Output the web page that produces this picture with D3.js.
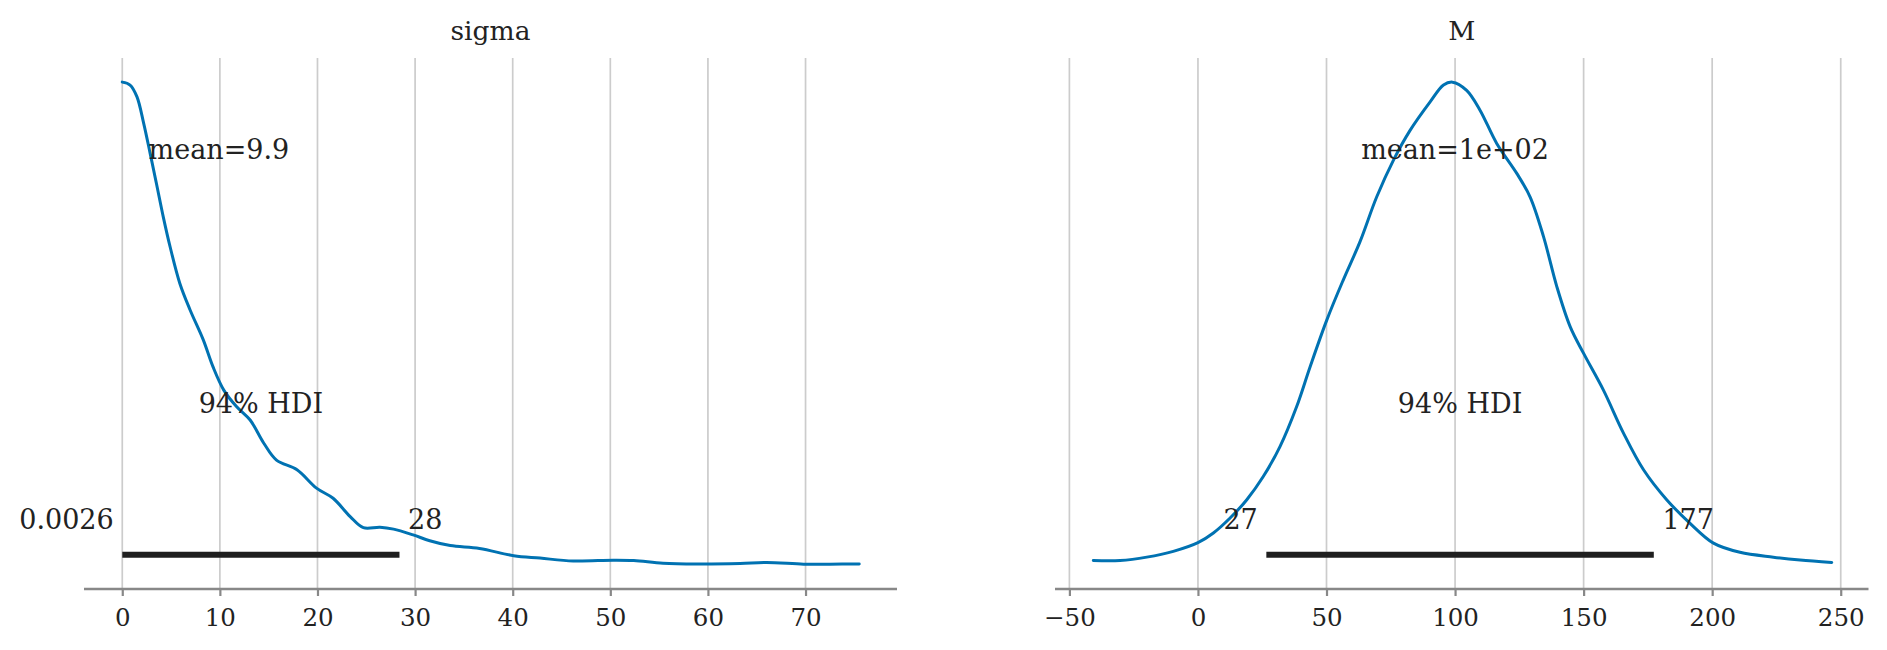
<!DOCTYPE html>
<html>
<head>
<meta charset="utf-8">
<script src="https://cdn.jsdelivr.net/npm/d3@7"></script>
<style>
  html, body { margin: 0; padding: 0; background: #ffffff; }
  svg { display: block; }
  text { font-family: "DejaVu Serif", serif; fill: #222222; }
</style>
</head>
<body>
<svg id="chart" width="1887" height="650"></svg>
<script>
// ---------------- DATA ----------------
// Panel titles
const panelTitles = ["sigma", "M"];

// sigma posterior KDE (x value, density relative to peak)
const sigmaX = [0, 0.8, 1.5, 2.2, 2.85, 3.5, 4.2, 4.9, 5.9, 6.95, 8.3, 9.3, 10.4, 11.7, 13.1, 14.5, 15.8, 17.9, 19.9, 21.6, 23.35, 24.7, 26.4, 27.8, 29.8, 31.5, 33.6, 36.6, 40.1, 42.8, 46.2, 50.3, 52.4, 55.4, 58.9, 63.3, 66.0, 69.8, 72.5, 75.5];
const sigmaDensity = [1.0, 0.994, 0.97, 0.914, 0.853, 0.79, 0.721, 0.659, 0.583, 0.528, 0.466, 0.41, 0.362, 0.328, 0.30, 0.252, 0.217, 0.197, 0.159, 0.138, 0.10, 0.077, 0.078, 0.074, 0.062, 0.05, 0.04, 0.034, 0.019, 0.014, 0.008, 0.0097, 0.009, 0.0035, 0.002, 0.003, 0.005, 0.0015, 0.0015, 0.002];

// M posterior KDE (x value, density relative to peak)
const mX = [-40.7, -30.3, -19.9, -9.6, 0, 6.0, 12.5, 19.0, 25.4, 31.9, 38.4, 43.6, 50.1, 56.5, 63.0, 69.5, 76.0, 82.5, 90.3, 95.5, 99.0, 104.5, 109.7, 116.2, 124.0, 129.2, 134.4, 139.6, 144.8, 150.0, 157.7, 165.5, 173.3, 182.3, 191.4, 200.5, 210.8, 223.8, 234.2, 246.5];
const mDensity = [0.009, 0.009, 0.016, 0.028, 0.046, 0.066, 0.097, 0.135, 0.183, 0.245, 0.328, 0.41, 0.507, 0.59, 0.669, 0.762, 0.838, 0.90, 0.959, 0.994, 1.0, 0.983, 0.942, 0.873, 0.811, 0.762, 0.68, 0.576, 0.493, 0.438, 0.362, 0.273, 0.197, 0.135, 0.086, 0.045, 0.026, 0.016, 0.010, 0.005];

// point estimates
const meanValues = [9.9, 100];
const meanLabels = ["mean=9.9", "mean=1e+02"];

// 94% HDI intervals
const hdiLow = [0.0026, 26.6];
const hdiHigh = [28.4, 177.3];
const hdiLowLabels = ["0.0026", "27"];
const hdiHighLabels = ["28", "177"];
const hdiText = "94% HDI";

// tick values
const sigmaTicks = [0, 10, 20, 30, 40, 50, 60, 70];
const mTicks = [-50, 0, 50, 100, 150, 200, 250];

// ---------------- LAYOUT ----------------
const svg = d3.select("#chart");
const plotTop = 58, plotBottom = 589;
const panels = [
  { title: panelTitles[0], xs: sigmaX, ys: sigmaDensity, ticks: sigmaTicks,
    domain: [-3.92, 79.37], range: [84, 897], i: 0 },
  { title: panelTitles[1], xs: mX, ys: mDensity, ticks: mTicks,
    domain: [-55.6, 260.8], range: [1055, 1868.5], i: 1 }
];

const plotHeight = 1.05; // upper y-limit (relative density units)
const y = d3.scaleLinear().domain([-0.05, plotHeight]).range([plotBottom, plotTop]);

const lineColor = "#0072B2";

panels.forEach(p => {
  const x = d3.scaleLinear().domain(p.domain).range(p.range);
  const g = svg.append("g");

  // grid lines
  g.selectAll("line.grid").data(p.ticks).enter().append("line")
    .attr("class", "grid")
    .attr("x1", d => x(d)).attr("x2", d => x(d))
    .attr("y1", plotTop).attr("y2", plotBottom)
    .attr("stroke", "#cccccc").attr("stroke-width", 1.7);

  // bottom axis
  const axis = d3.axisBottom(x).tickValues(p.ticks).tickSize(7).tickSizeOuter(0)
    .tickFormat(d3.format("d"));
  const ag = g.append("g").attr("transform", `translate(0,${plotBottom})`).call(axis);
  ag.select(".domain").attr("stroke", "#888888").attr("stroke-width", 2.3)
    .attr("d", `M${p.range[0]},0H${p.range[1]}`);
  ag.selectAll(".tick line").attr("stroke", "#888888").attr("stroke-width", 2.2);
  ag.selectAll(".tick text")
    .attr("y", 37).attr("dy", 0)
    .style("font-family", "'DejaVu Serif', serif")
    .style("font-size", "24.5px")
    .attr("fill", "#222222")
    .text(d => d < 0 ? "\u2212" + Math.abs(d) : String(d));

  // title
  g.append("text")
    .attr("x", (p.range[0] + p.range[1]) / 2).attr("y", 40)
    .attr("text-anchor", "middle")
    .style("font-size", "26.5px")
    .text(p.title);

  // KDE line
  const pts = p.xs.map((v, k) => [v, p.ys[k]]);
  const line = d3.line().x(d => x(d[0])).y(d => y(d[1])).curve(d3.curveCatmullRom.alpha(0.5));
  g.append("path").datum(pts)
    .attr("d", line)
    .attr("fill", "none")
    .attr("stroke", lineColor)
    .attr("stroke-width", 3)
    .attr("stroke-linejoin", "round")
    .attr("stroke-linecap", "round");

  // HDI bar
  const i = p.i;
  g.append("line")
    .attr("x1", x(hdiLow[i])).attr("x2", x(hdiHigh[i]))
    .attr("y1", y(plotHeight * 0.02)).attr("y2", y(plotHeight * 0.02))
    .attr("stroke", "#1f1f1f").attr("stroke-width", 6)
    .attr("stroke-linecap", "butt");

  // HDI endpoint labels
  g.append("text")
    .attr("x", x(hdiLow[i])).attr("y", y(plotHeight * 0.07))
    .attr("text-anchor", "end")
    .style("font-size", "27px")
    .style("white-space", "pre")
    .text(hdiLowLabels[i] + " ");
  g.append("text")
    .attr("x", x(hdiHigh[i])).attr("y", y(plotHeight * 0.07))
    .attr("text-anchor", "start")
    .style("font-size", "27px")
    .style("white-space", "pre")
    .text(" " + hdiHighLabels[i]);

  // HDI label
  g.append("text")
    .attr("x", x((hdiLow[i] + hdiHigh[i]) / 2)).attr("y", y(plotHeight * 0.3))
    .attr("text-anchor", "middle")
    .style("font-size", "27px")
    .text(hdiText);

  // mean label
  g.append("text")
    .attr("x", x(meanValues[i])).attr("y", y(plotHeight * 0.8))
    .attr("text-anchor", "middle")
    .style("font-size", "27px")
    .text(meanLabels[i]);
});
</script>
</body>
</html>
